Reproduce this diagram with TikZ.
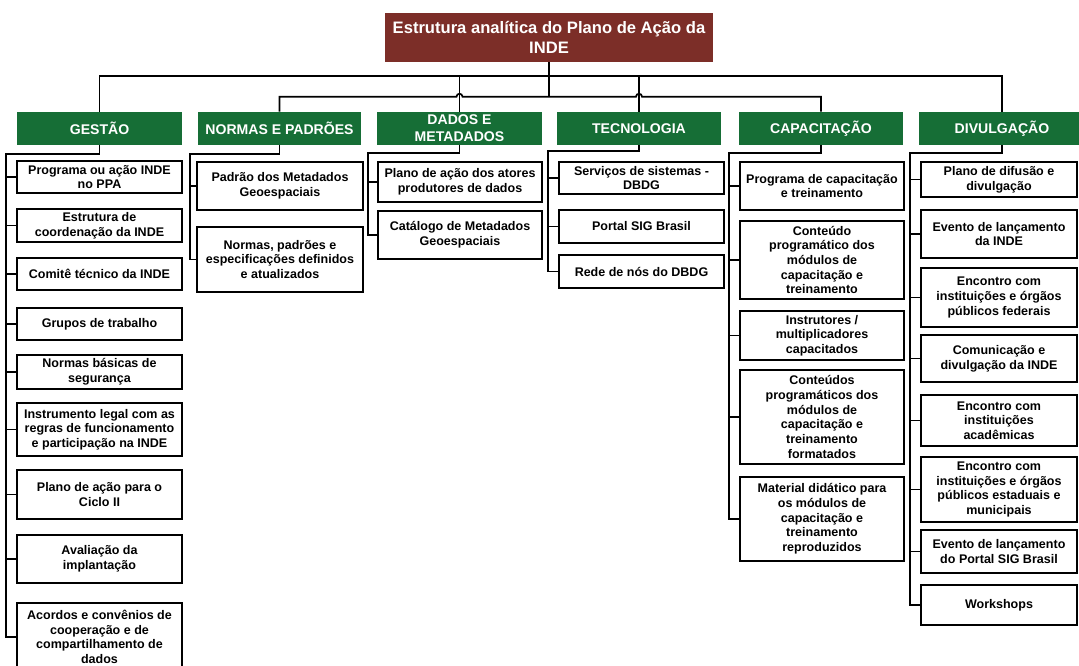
\documentclass[tikz,border=0pt]{standalone}
\usepackage{fontspec}
\setmainfont{Liberation Sans}
\usepackage{tikz}
\usetikzlibrary{positioning}

\definecolor{titlered}{RGB}{124,46,40}
\definecolor{headgreen}{RGB}{22,110,54}

\begin{document}
\begin{tikzpicture}[x=0.025cm, y=-0.025cm]
	\tikzstyle{rootbox} = [fill=titlered, text=white, font=\fontsize{11.8}{14.2}\selectfont\bfseries, align=center, inner sep=0pt, minimum width=8.2cm, minimum height=1.225cm]
	\tikzstyle{headbox} = [fill=headgreen, text=white, font=\fontsize{10}{12}\selectfont\bfseries, align=center, inner sep=0pt, minimum height=0.825cm]
	\tikzstyle{leafbox} = [draw, line width=1.1pt, font=\fontsize{8.9}{10.45}\selectfont\bfseries, align=center, inner sep=0pt]
	\tikzstyle{conn} = [line width=1.2pt]

	\useasboundingbox (0,0) rectangle (1079,665);

	\node[rootbox](root) at (549,37.5){Estrutura analítica do Plano de Ação da\\INDE};

	% headers
	\node[headbox, minimum width=4.125cm](hg) at (99.5,128.5){GESTÃO};
	\node[headbox, minimum width=4.075cm](hn) at (279.5,128.5){NORMAS E PADRÕES};
	\node[headbox, minimum width=4.125cm](hd) at (459.5,128.5){DADOS E\\METADADOS};
	\node[headbox, minimum width=4.1cm](ht) at (639,128.5){TECNOLOGIA};
	\node[headbox, minimum width=4.1cm](hc) at (821,128.5){CAPACITAÇÃO};
	\node[headbox, minimum width=4.15cm](hv) at (1002,128.5){DIVULGAÇÃO};

	% gestao
	\node[leafbox, minimum width=4.125cm, minimum height=0.8cm](g1) at (99.5,177){Programa ou ação INDE\\no PPA};
	\node[leafbox, minimum width=4.125cm, minimum height=0.825cm](g2) at (99.5,225.5){Estrutura de\\coordenação da INDE};
	\node[leafbox, minimum width=4.125cm, minimum height=0.8cm](g3) at (99.5,274){Comitê técnico da INDE};
	\node[leafbox, minimum width=4.125cm, minimum height=0.8cm](g4) at (99.5,324){Grupos de trabalho};
	\node[leafbox, minimum width=4.125cm, minimum height=0.85cm](g5) at (99.5,372){Normas básicas de\\segurança};
	\node[leafbox, minimum width=4.125cm, minimum height=1.325cm](g6) at (99.5,429.5){Instrumento legal com as\\regras de funcionamento\\e participação na INDE};
	\node[leafbox, minimum width=4.125cm, minimum height=1.225cm](g7) at (99.5,494.5){Plano de ação para o\\Ciclo II};
	\node[leafbox, minimum width=4.125cm, minimum height=1.2cm](g8) at (99.5,559){Avaliação da\\implantação};
	\node[leafbox, minimum width=4.125cm, minimum height=1.7cm](g9) at (99.5,637){Acordos e convênios de\\cooperação e de\\compartilhamento de\\dados};

	% normas
	\node[leafbox, minimum width=4.15cm, minimum height=1.2cm](n1) at (280,186){Padrão dos Metadados\\Geoespaciais};
	\node[leafbox, minimum width=4.15cm, minimum height=1.625cm](n2) at (280,259.5){Normas, padrões e\\especificações definidos\\e atualizados};

	% dados
	\node[leafbox, minimum width=4.1cm, minimum height=1cm](d1) at (460,182){Plano de ação dos atores\\produtores de dados};
	\node[leafbox, minimum width=4.1cm, minimum height=1.2cm](d2) at (460,235){Catálogo de Metadados\\Geoespaciais};

	% tecnologia
	\node[leafbox, minimum width=4.125cm, minimum height=0.8cm](t1) at (641.5,178){Serviços de sistemas -\\DBDG};
	\node[leafbox, minimum width=4.125cm, minimum height=0.825cm](t2) at (641.5,226.5){Portal SIG Brasil};
	\node[leafbox, minimum width=4.125cm, minimum height=0.825cm](t3) at (641.5,271.5){Rede de nós do DBDG};

	% capacitacao
	\node[leafbox, minimum width=4.1cm, minimum height=1.2cm](c1) at (822,186){Programa de capacitação\\e treinamento};
	\node[leafbox, minimum width=4.1cm, minimum height=1.95cm](c2) at (822,260){Conteúdo\\programático dos\\módulos de\\capacitação e\\treinamento};
	\node[leafbox, minimum width=4.1cm, minimum height=1.225cm](c3) at (822,335.5){Instrutores /\\multiplicadores\\capacitados};
	\node[leafbox, minimum width=4.1cm, minimum height=2.35cm](c4) at (822,417){Conteúdos\\programáticos dos\\módulos de\\capacitação e\\treinamento\\formatados};
	\node[leafbox, minimum width=4.1cm, minimum height=2.1cm](c5) at (822,519){Material didático para\\os módulos de\\capacitação e\\treinamento\\reproduzidos};

	% divulgacao
	\node[leafbox, minimum width=3.9cm, minimum height=0.875cm](v1) at (999,179.5){Plano de difusão e\\divulgação};
	\node[leafbox, minimum width=3.9cm, minimum height=1.2cm](v2) at (999,234){Evento de lançamento\\da INDE};
	\node[leafbox, minimum width=3.9cm, minimum height=1.475cm](v3) at (999,297.5){Encontro com\\instituições e órgãos\\públicos federais};
	\node[leafbox, minimum width=3.9cm, minimum height=1.175cm](v4) at (999,358.5){Comunicação e\\divulgação da INDE};
	\node[leafbox, minimum width=3.9cm, minimum height=1.275cm](v5) at (999,420.5){Encontro com\\instituições\\acadêmicas};
	\node[leafbox, minimum width=3.9cm, minimum height=1.625cm](v6) at (999,489.5){Encontro com\\instituições e órgãos\\públicos estaduais e\\municipais};
	\node[leafbox, minimum width=3.9cm, minimum height=1.075cm](v7) at (999,551.5){Evento de lançamento\\do Portal SIG Brasil};
	\node[leafbox, minimum width=3.9cm, minimum height=1cm](v8) at (999,605){Workshops};

	% top level lines
	\path (hn.north) ++(0,-15) coordinate (bar);
	\coordinate (hop1) at (hd.north |- bar);
	\coordinate (hop2) at (ht.north |- bar);
	\draw[conn] (hg.north) -- ++(0,-36) -| (hv.north);
	\draw[conn] (hd.north) -- ++(0,-36);
	\draw[conn] (ht.north) -- ++(0,-36);
	\draw[conn] (hn.north) |- ([xshift=-0.075cm]hop1) arc (180:360:3) -- ([xshift=-0.075cm]hop2) arc (180:360:3) -| (hc.north);
	\draw[conn] (root.south) -- (root.south |- bar);

	% columns
	\foreach \i in {1,...,9}
		\draw[conn] (hg.south) -- ++(0,9) -| ([xshift=-0.25cm]g\i.west) -- (g\i.west);
	\foreach \i in {1,2}
		\draw[conn] (hn.south) -- ++(0,9) -| ([xshift=-0.15cm]n\i.west) -- (n\i.west);
	\foreach \i in {1,2}
		\draw[conn] (hd.south) -- ++(0,8) -| ([xshift=-0.225cm]d\i.west) -- (d\i.west);
	\foreach \i in {1,2,3}
		\draw[conn] (ht.south) -- ++(0,6) -| ([xshift=-0.25cm]t\i.west) -- (t\i.west);
	\foreach \i in {1,...,5}
		\draw[conn] (hc.south) -- ++(0,8) -| ([xshift=-0.25cm]c\i.west) -- (c\i.west);
	\foreach \i in {1,...,8}
		\draw[conn] (hv.south) -- ++(0,8) -| ([xshift=-0.25cm]v\i.west) -- (v\i.west);
\end{tikzpicture}
\end{document}
